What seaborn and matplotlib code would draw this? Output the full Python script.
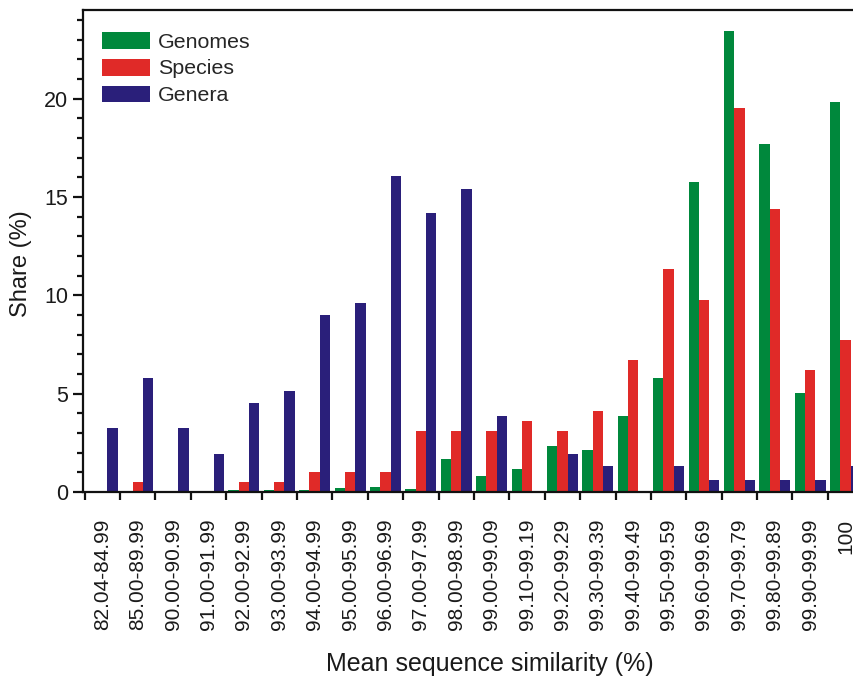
import numpy as np
import pandas as pd
import matplotlib
matplotlib.use("Agg")
import matplotlib.pyplot as plt
from matplotlib.ticker import MultipleLocator, FixedLocator
import seaborn as sns

# similarity ranges (x categories)
categories = [
    "82.04-84.99", "85.00-89.99", "90.00-90.99", "91.00-91.99",
    "92.00-92.99", "93.00-93.99", "94.00-94.99", "95.00-95.99",
    "96.00-96.99", "97.00-97.99", "98.00-98.99", "99.00-99.09",
    "99.10-99.19", "99.20-99.29", "99.30-99.39", "99.40-99.49",
    "99.50-99.59", "99.60-99.69", "99.70-99.79", "99.80-99.89",
    "99.90-99.99", "100",
]

# share (%) per series
genomes = [0, 0, 0, 0, 0.08, 0.08, 0.1, 0.19, 0.27, 0.14, 1.68,
           0.79, 1.18, 2.33, 2.11, 3.88, 5.8, 15.75, 23.44, 17.67, 5.02, 19.84]
species = [0, 0.52, 0, 0, 0.52, 0.52, 1.03, 1.03, 1.03, 3.1, 3.1,
           3.12, 3.6, 3.12, 4.14, 6.69, 11.33, 9.77, 19.53, 14.39, 6.18, 7.71]
genera = [3.23, 5.77, 3.23, 1.93, 4.5, 5.14, 9.01, 9.63, 16.07, 14.17, 15.41,
          3.88, 0, 1.95, 1.31, 0, 1.31, 0.63, 0.63, 0.63, 0.63, 1.31]

series = ["Genomes", "Species", "Genera"]
colors = ["#00883c", "#e02a28", "#2a1f7a"]

# long format for seaborn
df = pd.DataFrame({
    "similarity": categories * 3,
    "share": genomes + species + genera,
    "set": [s for s in series for _ in categories],
})

sns.set_style("ticks")
plt.rcParams["font.family"] = ["Liberation Sans", "DejaVu Sans"]

fig = plt.figure(figsize=(8.54, 6.89), dpi=100)
# axes run a little past the right edge, like the cropped original
ax = fig.add_axes([83 / 854, (689 - 492) / 689, (870 - 83) / 854, (492 - 10) / 689])

sns.barplot(data=df, x="similarity", y="share", hue="set",
            order=categories, hue_order=series, palette=colors,
            width=0.875, saturation=1, linewidth=0, ax=ax)

n = len(categories)
ax.set_xlim(-0.545, 21.69)
ax.set_ylim(0, 24.5)

# y axis
ax.yaxis.set_major_locator(MultipleLocator(5))
ax.yaxis.set_minor_locator(MultipleLocator(1))
ax.tick_params(axis="y", which="major", direction="out", length=7, width=1.6,
               labelsize=15.5, color="#111111", labelcolor="#1a1a1a")
ax.tick_params(axis="y", which="minor", direction="out", length=4, width=1.6,
               color="#111111")

# x axis: labels at group centres, tick marks between groups
ax.set_xticks(range(n))
ax.set_xticklabels(categories, rotation=90, ha="center", va="top", fontsize=15)
ax.tick_params(axis="x", which="major", length=0, pad=19, labelcolor="#1a1a1a")
ax.xaxis.set_minor_locator(FixedLocator(np.arange(-0.5, n, 1)))
ax.tick_params(axis="x", which="minor", direction="out", length=6, width=1.6,
               color="#111111")

for sp in ax.spines.values():
    sp.set_linewidth(1.6)
    sp.set_color("#111111")

ax.set_xlabel("Mean sequence similarity (%)", fontsize=18, va="center", color="#1a1a1a")
ax.xaxis.set_label_coords(0.517, -0.357)
ax.set_ylabel("Share (%)", fontsize=17, va="center", color="#1a1a1a")
ax.yaxis.set_label_coords(-0.079, 0.473)

handles, labels = ax.get_legend_handles_labels()
ax.legend(handles, labels, loc="upper left", bbox_to_anchor=(0.024, 0.955),
          frameon=False, fontsize=15.4, borderpad=0, borderaxespad=0,
          handlelength=2.24, handleheight=0.84, handletextpad=0.37,
          labelspacing=0.33)

fig.savefig("out.png", dpi=100)
